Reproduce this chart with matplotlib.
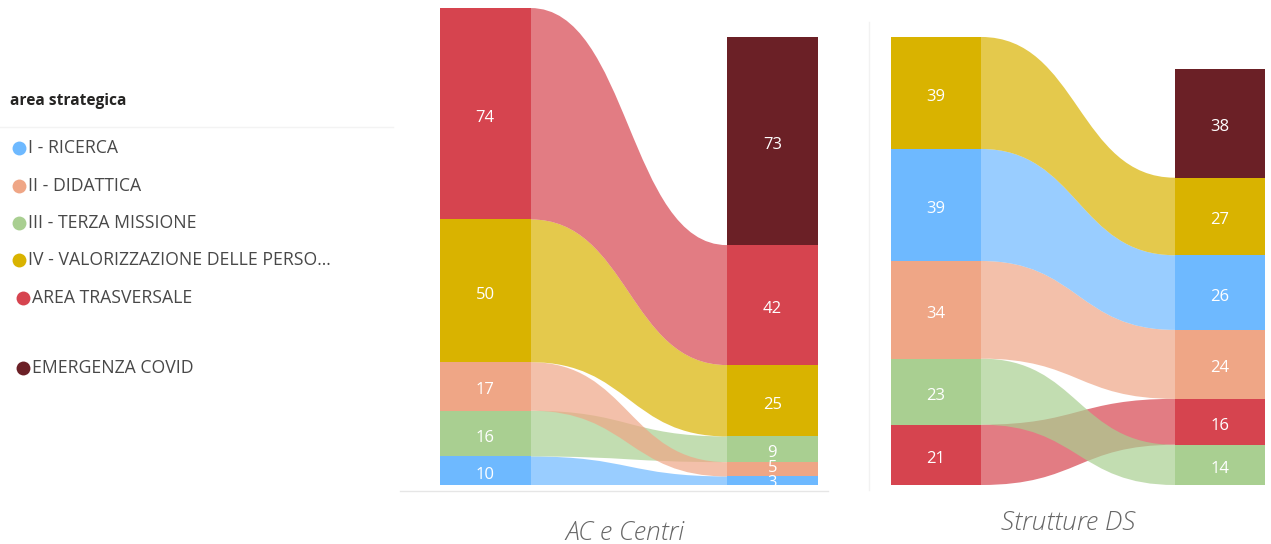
import matplotlib
matplotlib.use("Agg")
import matplotlib.pyplot as plt
from matplotlib.path import Path
from matplotlib.patches import PathPatch
from matplotlib.lines import Line2D

plt.rcParams['font.family'] = ['Open Sans', 'DejaVu Sans']

# ---------------- data ----------------
categories = ["I - RICERCA", "II - DIDATTICA", "III - TERZA MISSIONE",
              "IV - VALORIZZAZIONE DELLE PERSO...", "AREA TRASVERSALE",
              "EMERGENZA COVID"]
colors = {
    "I - RICERCA": "#6EB9FF",
    "II - DIDATTICA": "#EFA686",
    "III - TERZA MISSIONE": "#A9CF91",
    "IV - VALORIZZAZIONE DELLE PERSO...": "#D9B300",
    "AREA TRASVERSALE": "#D6444F",
    "EMERGENZA COVID": "#6B2026",
}
panel_titles = ["AC e Centri", "Strutture DS"]

# stacks listed from bottom to top (category, value)
ac_left_cats = ["I - RICERCA", "III - TERZA MISSIONE", "II - DIDATTICA",
                "IV - VALORIZZAZIONE DELLE PERSO...", "AREA TRASVERSALE"]
ac_left_vals = [10, 16, 17, 50, 74]
ac_right_cats = ["I - RICERCA", "II - DIDATTICA", "III - TERZA MISSIONE",
                 "IV - VALORIZZAZIONE DELLE PERSO...", "AREA TRASVERSALE",
                 "EMERGENZA COVID"]
ac_right_vals = [3, 5, 9, 25, 42, 73]

ds_left_cats = ["AREA TRASVERSALE", "III - TERZA MISSIONE", "II - DIDATTICA",
                "I - RICERCA", "IV - VALORIZZAZIONE DELLE PERSO..."]
ds_left_vals = [21, 23, 34, 39, 39]
ds_right_cats = ["III - TERZA MISSIONE", "AREA TRASVERSALE", "II - DIDATTICA",
                 "I - RICERCA", "IV - VALORIZZAZIONE DELLE PERSO...",
                 "EMERGENZA COVID"]
ds_right_vals = [14, 16, 24, 26, 27, 38]

# ---------------- layout ----------------
W, H = 1271, 544
fig = plt.figure(figsize=(W / 100, H / 100), dpi=100)


def add_axes_px(x0, x1, y_top, y_bot):
    return fig.add_axes([x0 / W, 1 - y_bot / H, (x1 - x0) / W, (y_bot - y_top) / H])


def stack(cats, vals):
    out = {}
    b = 0
    for c, v in zip(cats, vals):
        out[c] = (b, b + v)
        b += v
    return out


def draw_panel(ax, lcats, lvals, rcats, rvals, gap, ylim, baseline):
    xl0, xl1 = 0.0, 1.0
    xr0 = 1.0 + gap
    ls = stack(lcats, lvals)
    rs = stack(rcats, rvals)
    xm = (xl1 + xr0) / 2
    for c in lcats:
        if c not in rs:
            continue
        lb, lt = ls[c]
        rb, rt = rs[c]
        verts = [(xl1, lt), (xm, lt), (xm, rt), (xr0, rt),
                 (xr0, rb),
                 (xm, rb), (xm, lb), (xl1, lb),
                 (xl1, lt)]
        codes = [Path.MOVETO, Path.CURVE4, Path.CURVE4, Path.CURVE4,
                 Path.LINETO,
                 Path.CURVE4, Path.CURVE4, Path.CURVE4,
                 Path.CLOSEPOLY]
        ax.add_patch(PathPatch(Path(verts, codes), facecolor=colors[c],
                               edgecolor='none', alpha=0.7, zorder=2))
    for cats, vals, x0 in ((lcats, lvals, xl0), (rcats, rvals, xr0)):
        bottoms = []
        b = 0
        for v in vals:
            bottoms.append(b)
            b += v
        ax.bar([x0 + 0.5] * len(vals), vals, bottom=bottoms, width=1.0,
               color=[colors[c] for c in cats], edgecolor='none', zorder=3)
        for v, b0 in zip(vals, bottoms):
            dy = -4 if v >= 8 else (1 if v >= 5 else -2)
            ax.annotate(str(v), (x0 + 0.5, b0 + v / 2), xytext=(0, dy),
                        textcoords='offset pixels', ha='center', va='center',
                        color='white', fontsize=12, fontweight='medium',
                        zorder=4, annotation_clip=False)
    ax.set_ylim(*ylim)
    ax.set_axis_off()
    if baseline:
        ax.plot([ax.get_xlim()[0], ax.get_xlim()[1]], [-2, -2],
                color='#E6E6E6', lw=1, zorder=1, clip_on=False)
    return ax


# left panel
s1 = 2.856
ax1 = add_axes_px(400, 828, 0, 485 + 2 * s1)
ax1.set_xlim((400 - 440) / 90.5, (828 - 440) / 90.5)
draw_panel(ax1, ac_left_cats, ac_left_vals, ac_right_cats, ac_right_vals,
           gap=(727 - 530.5) / 90.5, ylim=(-2, 485 / s1), baseline=True)

# right panel
s2 = 2.872
ax2 = add_axes_px(868, 1271, 0, 485 + 2 * s2)
ax2.set_xlim((868 - 891) / 90, (1271 - 891) / 90)
draw_panel(ax2, ds_left_cats, ds_left_vals, ds_right_cats, ds_right_vals,
           gap=(1175 - 981) / 90, ylim=(-2, 485 / s2), baseline=False)
fig.add_artist(Line2D([869 / W, 869 / W], [1 - 490 / H, 1 - 22 / H],
                      color='#F2F2F2', lw=1))

# panel titles
fig.text(625 / W, 1 - 534 / H, panel_titles[0], ha='center', va='center',
         fontsize=19, style='italic', fontweight='light', color='#666666')
fig.text(1068 / W, 1 - 524 / H, panel_titles[1], ha='center', va='center',
         fontsize=19, style='italic', fontweight='light', color='#666666')

# legend
fig.text(10 / W, 1 - 101 / H, "area strategica", ha='left', va='center',
         fontsize=11.2, fontweight='bold', color='#252423')
fig.add_artist(Line2D([0, 393 / W], [1 - 127 / H, 1 - 127 / H],
                      color='#F3F3F3', lw=1))
leg_y = [148, 186, 223, 260, 298, 368]
leg_x = [18.5, 18.5, 18.5, 18.5, 22.5, 22.5]
for c, y, x in zip(categories, leg_y, leg_x):
    fig.add_artist(Line2D([x / W], [1 - y / H], marker='o', markersize=10,
                          markerfacecolor=colors[c], markeredgecolor='none',
                          linestyle='none'))
    fig.text((x + 9.5) / W, 1 - y / H, c, ha='left', va='center',
             fontsize=12.7, color='#484848')

fig.savefig("out.png", dpi=100)
